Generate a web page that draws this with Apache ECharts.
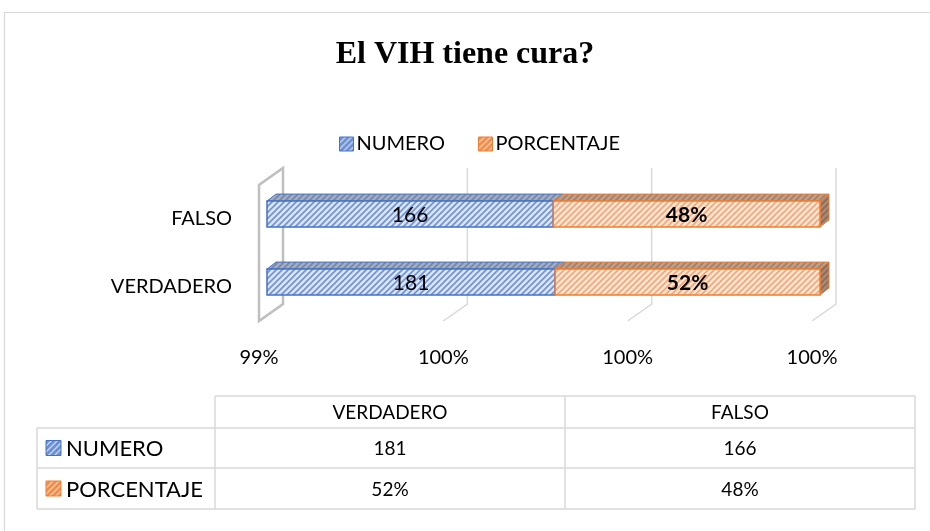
<!DOCTYPE html>
<html>
<head>
<meta charset="utf-8">
<script src="https://cdn.jsdelivr.net/npm/echarts@6/dist/echarts.min.js"></script>
<style>
  html, body { margin: 0; padding: 0; background: #fff; }
  #chart { width: 930px; height: 531px; }
</style>
</head>
<body>
<div id="chart"></div>
<script>
// datos
const categories = ['VERDADERO', 'FALSO'];
const numero = [181, 166];
const porcentaje = [0.52, 0.48];
const xTicks = [0, 1, 2, 3];
const xTickLabels = ['99%', '100%', '100%', '100%'];
// largo de cada tramo medido contra las lineas de la grilla
const numeroLength = [1.563, 1.553];
const porcentajeLength = [1.437, 1.447];

const FONT = 'Lato, "Open Sans", sans-serif';
const BLUE = '#4472c4';
const ORANGE = '#ed7d31';

// trama diagonal
function hatch(bg, fg, lw) {
    const s = 6;
    const c = document.createElement('canvas');
    c.width = s; c.height = s;
    const g = c.getContext('2d');
    g.fillStyle = bg;
    g.fillRect(0, 0, s, s);
    g.strokeStyle = fg;
    g.lineWidth = lw;
    g.beginPath();
    g.moveTo(-1, s + 1); g.lineTo(s + 1, -1);
    g.moveTo(-1, 1); g.lineTo(1, -1);
    g.moveTo(s - 1, s + 1); g.lineTo(s + 1, s - 1);
    g.stroke();
    return { image: c, repeat: 'repeat' };
}

const styles = {
    numero: {
        front: hatch('#dce5f5', '#6f92d6', 1.6),
        top: hatch('#a3aec2', '#7886a2', 1.6),
        side: hatch('#8e9ab3', '#6c7a96', 1.6),
        border: BLUE,
        label: (i) => String(numero[i]),
        weight: 'normal'
    },
    porcentaje: {
        front: hatch('#fde7d8', '#f4a675', 1.6),
        top: hatch('#bca08f', '#a0806b', 1.6),
        side: hatch('#a88975', '#8a6b58', 1.6),
        border: ORANGE,
        label: (i) => Math.round(porcentaje[i] * 100) + '%',
        weight: 'bold'
    }
};

const legendBlue = hatch('#6b8fd3', '#c9d6f0', 1.4);
const legendOrange = hatch('#f08d4b', '#f9ccad', 1.4);

// profundidad 3D
const WALL_DX = 24, WALL_DY = -17;
const BAR_OX = 8, BAR_OY = -5;
const BAR_DX = 9, BAR_DY = -7;

function makeBarRender(st) {
    return function (params, api) {
        const cat = api.value(2);
        const p0 = api.coord([api.value(0), cat]);
        const p1 = api.coord([api.value(1), cat]);
        const h = api.size([0, 1])[1] * 0.38;
        const x0 = p0[0] + BAR_OX, x1 = p1[0] + BAR_OX;
        const y0 = p0[1] + BAR_OY - h / 2, y1 = y0 + h;
        return {
            type: 'group',
            children: [
                {
                    type: 'polygon',
                    shape: { points: [[x0, y0], [x0 + BAR_DX, y0 + BAR_DY], [x1 + BAR_DX, y0 + BAR_DY], [x1, y0]] },
                    style: { fill: st.top, stroke: st.border, lineWidth: 1 }
                },
                {
                    type: 'polygon',
                    shape: { points: [[x1, y0], [x1 + BAR_DX, y0 + BAR_DY], [x1 + BAR_DX, y1 + BAR_DY], [x1, y1]] },
                    style: { fill: st.side, stroke: st.border, lineWidth: 1 }
                },
                {
                    type: 'rect',
                    shape: { x: x0, y: y0, width: x1 - x0, height: h },
                    style: { fill: st.front, stroke: st.border, lineWidth: 1.5 }
                },
                {
                    type: 'text',
                    style: {
                        text: st.label(params.dataIndex),
                        x: (x0 + x1) / 2, y: (y0 + y1) / 2 + 1,
                        align: 'center', verticalAlign: 'middle',
                        font: st.weight + ' 21px ' + FONT,
                        fill: '#000'
                    }
                }
            ]
        };
    };
}

function renderWall(params, api) {
    const t = api.value(0);
    const band = api.size([0, 1])[1];
    const x = api.coord([t, 0])[0];
    const bottom = api.coord([t, 0])[1] + band / 2;
    const top = api.coord([t, categories.length - 1])[1] - band / 2;
    if (params.dataIndex === 0) {
        return {
            type: 'polygon',
            shape: { points: [[x, bottom], [x, top], [x + WALL_DX, top + WALL_DY], [x + WALL_DX, bottom + WALL_DY]] },
            style: { fill: null, stroke: '#bfbfbf', lineWidth: 2.5 }
        };
    }
    return {
        type: 'polyline',
        shape: { points: [[x, bottom], [x + WALL_DX, bottom + WALL_DY], [x + WALL_DX, top + WALL_DY]] },
        style: { fill: null, stroke: '#d9d9d9', lineWidth: 1.5 }
    };
}

// tabla de datos
const colX = [215, 565, 915];
const rowY = [396, 428, 468, 509];
const tableLeft = 37;
const lineStyle = { stroke: '#d9d9d9', lineWidth: 1.5 };
const graphics = [
    { type: 'rect', shape: { x: 4.5, y: 12.5, width: 960, height: 560 }, style: { fill: null, stroke: '#d9d9d9', lineWidth: 1.2 } }
];
function hline(x1, x2, y) {
    graphics.push({ type: 'line', shape: { x1: x1, y1: y, x2: x2, y2: y }, style: lineStyle });
}
function vline(x, y1, y2) {
    graphics.push({ type: 'line', shape: { x1: x, y1: y1, x2: x, y2: y2 }, style: lineStyle });
}
function cellText(text, x, y, align, size) {
    graphics.push({
        type: 'text',
        style: { text: text, x: x, y: y, align: align || 'center', verticalAlign: 'middle', font: (size || 19) + 'px ' + FONT, fill: '#000' }
    });
}
hline(colX[0], colX[2], rowY[0]);
for (let r = 1; r < rowY.length; r++) hline(tableLeft, colX[2], rowY[r]);
vline(tableLeft, rowY[1], rowY[3]);
colX.forEach(x => vline(x, rowY[0], rowY[3]));

categories.forEach((c, i) => {
    const cx = (colX[i] + colX[i + 1]) / 2;
    cellText(c, cx, (rowY[0] + rowY[1]) / 2 + 1);
    cellText(String(numero[i]), cx, (rowY[1] + rowY[2]) / 2 + 1);
    cellText(Math.round(porcentaje[i] * 100) + '%', cx, (rowY[2] + rowY[3]) / 2 + 1);
});
[['NUMERO', legendBlue, BLUE], ['PORCENTAJE', legendOrange, ORANGE]].forEach((row, r) => {
    const cy = (rowY[r + 1] + rowY[r + 2]) / 2;
    graphics.push({ type: 'rect', shape: { x: 46, y: cy - 7.5, width: 15, height: 15 }, style: { fill: row[1], stroke: row[2], lineWidth: 1 } });
    cellText(row[0], 66, cy + 1, 'left', 22);
});

const chart = echarts.init(document.getElementById('chart'));

chart.setOption({
    animation: false,
    title: {
        text: 'El VIH tiene cura?',
        left: 'center',
        top: 39,
        padding: [0, 0, 0, 14],
        textStyle: { fontFamily: '"Liberation Serif", serif', fontWeight: 'bold', fontSize: 32, color: '#000' }
    },
    legend: {
        left: 334,
        top: 129,
        itemWidth: 14,
        itemHeight: 14,
        itemGap: 33,
        icon: 'rect',
        textStyle: { fontFamily: FONT, fontSize: 20, color: '#000', padding: [0, 0, 0, -2] },
        data: [
            { name: 'NUMERO', itemStyle: { color: legendBlue, borderColor: BLUE, borderWidth: 1 } },
            { name: 'PORCENTAJE', itemStyle: { color: legendOrange, borderColor: ORANGE, borderWidth: 1 } }
        ]
    },
    grid: { left: 259, right: 118, top: 185, bottom: 210 },
    xAxis: {
        type: 'value',
        min: 0,
        max: 3,
        interval: 1,
        axisLine: { show: false },
        axisTick: { show: false },
        splitLine: { show: false },
        axisLabel: {
            margin: 27,
            fontFamily: FONT,
            fontSize: 20,
            color: '#000',
            formatter: (v) => xTickLabels[xTicks.indexOf(v)]
        }
    },
    yAxis: {
        type: 'category',
        data: categories,
        axisLine: { show: false },
        axisTick: { show: false },
        axisLabel: { margin: 27, fontFamily: FONT, fontSize: 20, color: '#000' }
    },
    graphic: graphics,
    series: [
        {
            type: 'custom',
            name: 'pared',
            silent: true,
            clip: false,
            z: 1,
            renderItem: renderWall,
            encode: { x: 0, y: 1 },
            data: xTicks.map(t => [t, 0])
        },
        {
            type: 'custom',
            name: 'NUMERO',
            clip: false,
            z: 2,
            itemStyle: { color: legendBlue },
            renderItem: makeBarRender(styles.numero),
            encode: { x: [0, 1], y: 2 },
            data: categories.map((c, i) => [0, numeroLength[i], i])
        },
        {
            type: 'custom',
            name: 'PORCENTAJE',
            clip: false,
            z: 3,
            itemStyle: { color: legendOrange },
            renderItem: makeBarRender(styles.porcentaje),
            encode: { x: [0, 1], y: 2 },
            data: categories.map((c, i) => [numeroLength[i], numeroLength[i] + porcentajeLength[i], i])
        }
    ]
});
</script>
</body>
</html>
